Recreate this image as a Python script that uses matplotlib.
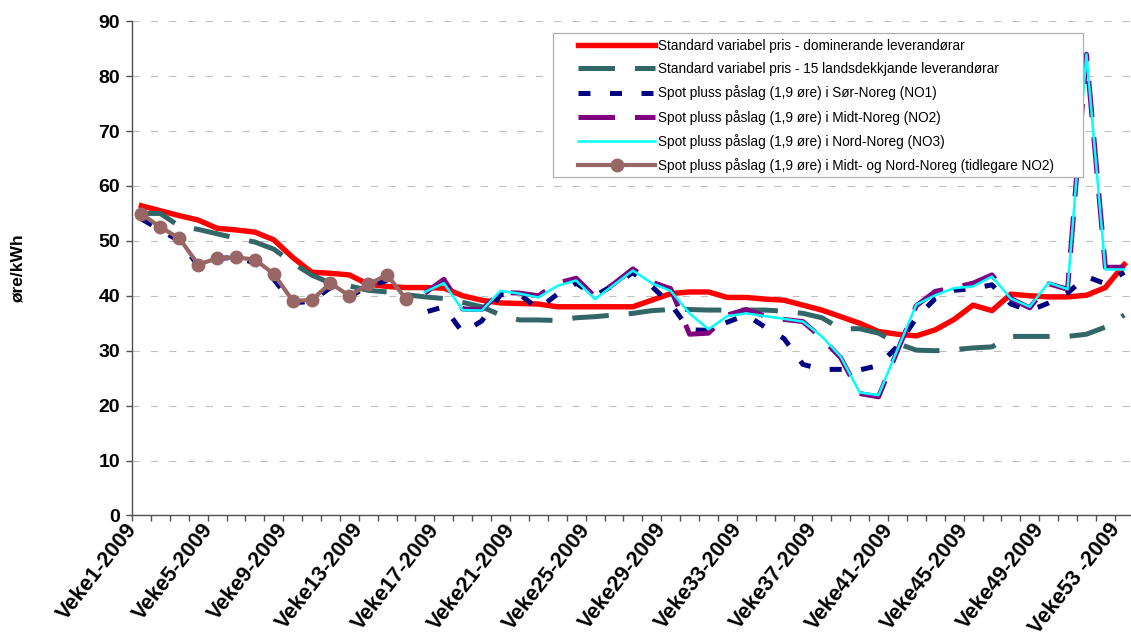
import numpy as np
import matplotlib
matplotlib.use("Agg")
import matplotlib.pyplot as plt
from matplotlib import font_manager
from matplotlib.patches import Rectangle

# ---------------- data (øre/kWh per week, 2009) ----------------
weeks = list(range(1, 54))
week_labels = [f"Veke{w}-2009" for w in weeks]
week_labels[-1] = "Veke53 -2009"
label_step = 4

nan = np.nan

std_dominant = [56.4, 55.5, 54.6, 53.8, 52.3, 52.0, 51.6, 50.2, 47.0, 44.3,
                44.1, 43.8, 42.1, 41.7, 41.5, 41.5, 41.4, 40.0, 39.2, 38.7,
                38.6, 38.5, 38.0, 38.0, 38.0, 38.0, 38.0, 39.2, 40.4, 40.7,
                40.7, 39.7, 39.7, 39.4, 39.2, 38.3, 37.4, 36.2, 35.0, 33.5,
                33.0, 32.7, 33.8, 35.7, 38.3, 37.3, 40.3, 40.0, 39.8, 39.8,
                40.1, 41.5, 45.7]

std_national15 = [55.0, 55.0, 52.7, 52.1, 51.3, 50.5, 49.8, 48.5, 46.0, 43.8,
                  42.3, 41.8, 41.0, 40.7, 40.2, 39.8, 39.5, 38.8, 38.0, 36.5,
                  35.6, 35.6, 35.5, 36.0, 36.2, 36.5, 36.8, 37.3, 37.5, 37.5,
                  37.4, 37.4, 37.4, 37.4, 37.2, 36.8, 36.0, 34.0, 34.0, 33.2,
                  31.3, 30.1, 30.0, 30.2, 30.5, 30.7, 32.6, 32.6, 32.6, 32.6,
                  33.0, 34.3, 36.5]

spot_no1 = [54.0, 52.0, 50.0, 45.5, 46.8, 47.0, 46.0, 43.0, 38.7, 39.0,
            41.5, 39.8, 41.8, 42.8, 39.2, 37.0, 38.0, 33.3, 35.4, 40.2,
            40.3, 37.6, 40.3, 42.3, 40.0, 42.0, 44.2, 41.7, 38.5, 33.8,
            33.7, 35.2, 36.5, 34.3, 32.2, 27.5, 26.6, 26.6, 26.5, 27.3,
            30.8, 36.0, 39.5, 41.0, 41.3, 42.0, 38.5, 37.3, 38.7, 40.5,
            43.5, 42.2, 44.3]

spot_no2 = [nan] * 15 + [
            40.5, 43.0, 37.6, 37.5, 40.6,
            40.5, 40.0, 42.3, 43.2, 39.8, 42.2, 44.9, 42.5, 41.3, 33.0,
            33.2, 36.5, 37.5, 36.3, 35.7, 35.3, 32.3, 28.7, 22.2, 21.6,
            30.0, 38.2, 40.8, 41.5, 42.3, 43.8, 39.5, 37.8, 42.2, 41.2,
            84.0, 45.2, 45.2]

spot_no3 = [nan] * 15 + [
            40.7, 42.3, 37.4, 37.3, 40.9,
            40.4, 39.7, 41.8, 42.8, 39.4, 42.0, 44.6, 42.3, 40.9, 36.8,
            33.9, 36.3, 36.8, 36.3, 35.8, 35.3, 32.6, 28.9, 22.4, 21.9,
            30.2, 38.4, 40.1, 41.4, 41.7, 43.5, 39.5, 38.0, 42.4, 41.2,
            84.0, 44.8, 44.8]

spot_old_no2 = [54.9, 52.5, 50.5, 45.7, 46.8, 47.0, 46.6, 44.0, 39.1, 39.2,
                42.3, 40.0, 42.1, 43.8, 39.4] + [nan] * 38

series_names = [
    "Standard variabel pris - dominerande leverandørar",
    "Standard variabel pris - 15 landsdekkjande leverandørar",
    "Spot pluss påslag (1,9 øre) i Sør-Noreg (NO1)",
    "Spot pluss påslag (1,9 øre) i Midt-Noreg (NO2)",
    "Spot pluss påslag (1,9 øre) i Nord-Noreg (NO3)",
    "Spot pluss påslag (1,9 øre) i Midt- og Nord-Noreg (tidlegare NO2)",
]

y_ticks = list(range(0, 100, 10))

# ---------------- fonts ----------------
available = {f.name for f in font_manager.fontManager.ttflist}
base_font = "Liberation Sans" if "Liberation Sans" in available else "DejaVu Sans"
plt.rcParams["font.family"] = [base_font, "DejaVu Sans"]

# ---------------- figure ----------------
W, H = 1131, 637
fig = plt.figure(figsize=(W / 100, H / 100), dpi=100)
px_left, px_right = 132, 1133.7
px_bottom, px_top = 515.4, 21.3
ax = fig.add_axes([px_left / W, 1 - px_bottom / H,
                   (px_right - px_left) / W, (px_bottom - px_top) / H])

x = np.arange(len(weeks))

styles = [
    dict(color="#FF0000", lw=3.9, ls="-", zorder=3),
    dict(color="#336666", lw=3.6, ls=(0, (7.3, 4.0)), zorder=3),
    dict(color="#000080", lw=3.6, ls=(0, (2.4, 3.9)), zorder=3),
    dict(color="#800080", lw=3.6, ls=(0, (7.3, 4.0)), zorder=3),
    dict(color="#00FFFF", lw=1.8, ls="-", zorder=3),
    dict(color="#996666", lw=3.0, ls="-", marker="o", ms=9, zorder=3),
]
all_series = [std_dominant, std_national15, spot_no1, spot_no2, spot_no3, spot_old_no2]

handles = []
for vals, name, st in zip(all_series, series_names, styles):
    ln, = ax.plot(x, vals, label=name, solid_joinstyle="round",
                  dash_capstyle="butt", **st)
    handles.append(ln)

ax.set_xlim(-0.5, len(weeks) - 0.5)
ax.set_ylim(0, 90)

# axes styling
for side in ("top", "right"):
    ax.spines[side].set_visible(False)
for side in ("left", "bottom"):
    ax.spines[side].set_color("#505050")
    ax.spines[side].set_linewidth(1.0)

ax.set_yticks(y_ticks)
ax.set_yticklabels([str(v) for v in y_ticks], fontsize=14, fontweight="bold")
ax.tick_params(axis="y", direction="out", length=4.5, width=1.0,
               color="#505050", pad=4)

label_pos = x[::label_step]
ax.set_xticks(label_pos)
ax.set_xticklabels([week_labels[i] for i in label_pos], rotation=52,
                   ha="right", va="top", rotation_mode="default",
                   fontsize=15.5, fontweight="bold")
ax.tick_params(axis="x", which="major", length=0, pad=3)
ax.set_xticks(np.arange(-0.5, len(weeks), 1.0), minor=True)
ax.tick_params(axis="x", which="minor", direction="out", length=4,
               width=1.0, color="#505050")

ax.grid(axis="y", color="#C0C0C0", lw=0.8, ls=(0, (6.5, 10)))
ax.set_axisbelow(True)

ax.set_ylabel("øre/kWh", fontsize=12.5, fontweight="bold")
ax.yaxis.set_label_coords((26 - px_left) / (px_right - px_left), 0.5)

# legend: white box with grey border, covering the plot lines
box_l, box_t, box_r, box_b = 553, 33, 1083, 177
ax.add_patch(Rectangle((box_l / W, 1 - box_b / H), (box_r - box_l) / W,
                       (box_b - box_t) / H, transform=fig.transFigure,
                       facecolor="white", edgecolor="#B0B0B0", lw=0.9,
                       zorder=5, clip_on=False))

leg_size = 9.8
leg = ax.legend(handles=handles, loc="upper left",
                bbox_to_anchor=(578 / W, 1 - 39 / H),
                bbox_transform=fig.transFigure, frameon=False,
                prop=dict(family=[base_font, "DejaVu Sans"], size=leg_size),
                handlelength=77 / (leg_size * 100 / 72),
                handletextpad=0.2, labelspacing=0.68, borderpad=0,
                borderaxespad=0, numpoints=1)
leg.set_zorder(6)

fig.savefig("out.png", dpi=100)
